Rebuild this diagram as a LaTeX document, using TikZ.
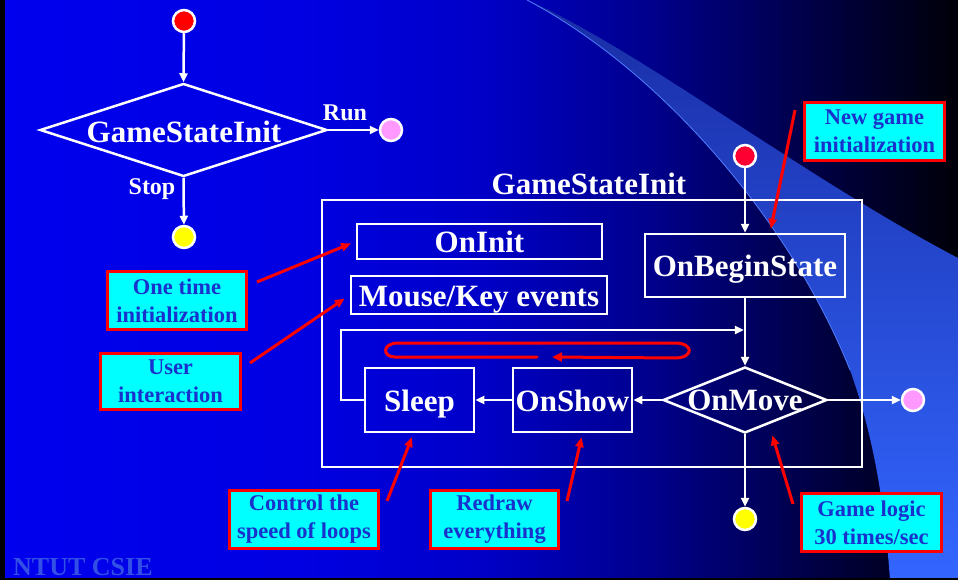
\documentclass[tikz,border=0pt]{standalone}
\usepackage{fontspec}
\setmainfont{Liberation Serif}
\usetikzlibrary{arrows.meta,shapes.geometric,calc}

\definecolor{bgA}{RGB}{0,0,238}
\definecolor{bgB}{RGB}{0,0,226}
\definecolor{bgC}{RGB}{0,0,200}
\definecolor{bgD}{RGB}{0,0,140}
\definecolor{bgE}{RGB}{0,0,75}
\definecolor{bgF}{RGB}{0,0,8}
\definecolor{bandTop}{RGB}{25,45,165}
\definecolor{bandMid}{RGB}{48,96,235}
\definecolor{bandLow}{RGB}{51,102,255}
\definecolor{callfill}{RGB}{0,255,255}
\definecolor{calltext}{RGB}{25,50,205}
\definecolor{startred}{RGB}{255,0,0}
\definecolor{startcrimson}{RGB}{255,0,51}
\definecolor{endpink}{RGB}{255,153,255}
\definecolor{endyellow}{RGB}{255,255,0}
\definecolor{footer}{RGB}{50,80,230}

\begin{document}
\begin{tikzpicture}[x=1pt,y=-1pt,
  wire/.style={draw=white, line width=2.5pt, -{Triangle[length=9pt,width=8pt]}},
  pointer/.style={draw=red, line width=3pt, -{Triangle[length=10pt,width=8pt]}},
  stbox/.style={draw=white, line width=2.5pt, rectangle, inner sep=0pt,
    text=white, font=\fontsize{31}{36}\selectfont\bfseries, text height=22.5pt, text depth=0pt},
  dia/.style={diamond, draw=white, line width=2.5pt, inner sep=0pt},
  bigtxt/.style={text=white, font=\fontsize{31}{36}\selectfont\bfseries, inner sep=0pt},
  midtxt/.style={text=white, font=\fontsize{24}{28}\selectfont\bfseries, inner sep=0pt},
  callout/.style={draw=red, line width=3pt, fill=callfill, text=calltext, align=center,
    font=\fontsize{22.5}{28}\selectfont\bfseries, inner sep=0pt},
  dot/.style={circle, draw=white, line width=2.5pt, minimum size=22pt, inner sep=0pt},
]
\useasboundingbox (0,0) rectangle (958,580);

% ---- slide background: blue fading to black ----
\shade[left color=bgA, right color=bgB] (0,0) rectangle (300.6,580);
\shade[left color=bgB, right color=bgC] (300,0) rectangle (480.6,580);
\shade[left color=bgC, right color=bgD] (480,0) rectangle (650.6,580);
\shade[left color=bgD, right color=bgE] (650,0) rectangle (800.6,580);
\shade[left color=bgE, right color=bgF] (800,0) rectangle (958,580);

% ---- light swoosh band ----
\shade[top color=bandTop, middle color=bandMid, bottom color=bandLow]
  (527,0) .. controls (640,50) and (800,175) .. (958,258) -- (958,580) -- (890,580)
  .. controls (885,510) and (875,440) .. (850,370)
  .. controls (790,220) and (660,70) .. (527,0) -- cycle;
\draw[bandLow!85!white, line width=0.8pt]
  (527,0) .. controls (660,70) and (790,220) .. (850,370);

% ---- frame edges ----
\fill[black] (0,0) rectangle (5,580);
\fill[black] (0,578) rectangle (958,580);

% ---- outer state machine ----
\node[dot, fill=startred] (s1) at (184,21) {};
\node[dia, minimum width=287pt, minimum height=93pt] (gsi) at (183.5,130) {};
\node[bigtxt, anchor=base] (gsitext) at (184,143) {GameStateInit};
\node[dot, fill=endpink] (run1) at (391,130) {};
\node[dot, fill=endyellow] (stop1) at (184,237) {};
\node[midtxt, anchor=base] (runlbl) at (345,121) {Run};
\node[midtxt, anchor=base] (stoplbl) at (152,195) {Stop};

\draw[wire] (s1) -- (gsi.north);
\draw[wire] (gsi.east) -- (run1);
\draw[wire] (gsi.south) -- (stop1);

% ---- GameStateInit internals ----
\node[draw=white, line width=2.5pt, rectangle, minimum width=540pt, minimum height=267pt,
  inner sep=0pt] (frame) at (592,333.5) {};
\node[bigtxt, anchor=base] (frametitle) at (589,195) {GameStateInit};

\node[stbox, minimum width=245pt, minimum height=35pt] (init) at (479.5,241.5) {OnInit};
\node[stbox, minimum width=256pt, minimum height=38pt] (mouse) at (479,295) {Mouse/Key events};
\node[stbox, minimum width=200pt, minimum height=63pt] (begin) at (745,265.5) {OnBeginState};
\node[stbox, minimum width=109pt, minimum height=64pt] (sleep) at (419.5,400) {Sleep};
\node[stbox, minimum width=119pt, minimum height=64pt] (show) at (572.5,400) {OnShow};
\node[dia, minimum width=164pt, minimum height=66pt] (move) at (745,400) {};
\node[bigtxt] (movetext) at (745,400) {OnMove};

\node[dot, fill=startcrimson] (s2) at (745,156) {};
\node[dot, fill=endpink] (end2) at (913,400) {};
\node[dot, fill=endyellow] (stop2) at (745,519) {};
\coordinate (join) at (745,330);

\draw[wire] (s2) -- (begin);
\draw[wire] (begin) -- (move.north);
\draw[wire] (move.west) -- (show);
\draw[wire] (show) -- (sleep);
\draw[wire] (move.east) -- (end2);
\draw[wire] (move.south) -- (stop2);
\draw[wire, shorten >=1.2pt] (sleep.west) -- ++(-23,0) |- (join);

% hand-drawn loop marker
\draw[red, line width=3pt, line cap=round, -{Triangle[length=10pt,width=9pt]}]
  (537,357) -- (395,357) .. controls (382,357) and (382,343) .. (398,343)
  -- (675,343) .. controls (694,343) and (694,358) .. (675,358) -- (552,357);

% ---- callouts ----
\node[callout, minimum width=140pt, minimum height=58pt] (cNew) at (874.5,131.5) {New game\\initialization};
\node[callout, minimum width=139pt, minimum height=58pt] (cOne) at (177,300.5) {One time\\initialization};
\node[callout, minimum width=140pt, minimum height=56pt] (cUser) at (170.5,381.5) {User\\interaction};
\node[callout, minimum width=149pt, minimum height=58pt] (cCtrl) at (304,519.5) {Control the\\speed of loops};
\node[callout, minimum width=128pt, minimum height=58pt] (cDraw) at (494.5,519.5) {Redraw\\everything};
\node[callout, minimum width=140pt, minimum height=58pt] (cLogic) at (871.5,522.5) {Game logic\\30 times/sec};

\coordinate (pNew) at (795,110);
\coordinate (pOne) at (257,282);
\coordinate (pUser) at (250,363);
\coordinate (pCtrl) at (387,501);
\coordinate (pDraw) at (567,501);
\coordinate (pLogic) at (793,504);

\draw[pointer, shorten >=4pt] (pNew) -- ([xshift=25pt]begin.north);
\draw[pointer, shorten >=5pt] (pOne) -- (init.west);
\draw[pointer, shorten >=6pt] (pUser) -- (mouse.west);
\draw[pointer, shorten >=4pt] (pCtrl) -- ([xshift=-6pt]sleep.south);
\draw[pointer, shorten >=4pt] (pDraw) -- ([xshift=10pt]show.south);
\draw[pointer, shorten >=1pt] (pLogic) -- ([xshift=27pt]move.south);

% ---- footer ----
\node[anchor=base west, inner sep=0pt, text=footer, font=\fontsize{26}{30}\selectfont\bfseries]
  (footer) at (13,575) {NTUT CSIE};
\end{tikzpicture}
\end{document}
